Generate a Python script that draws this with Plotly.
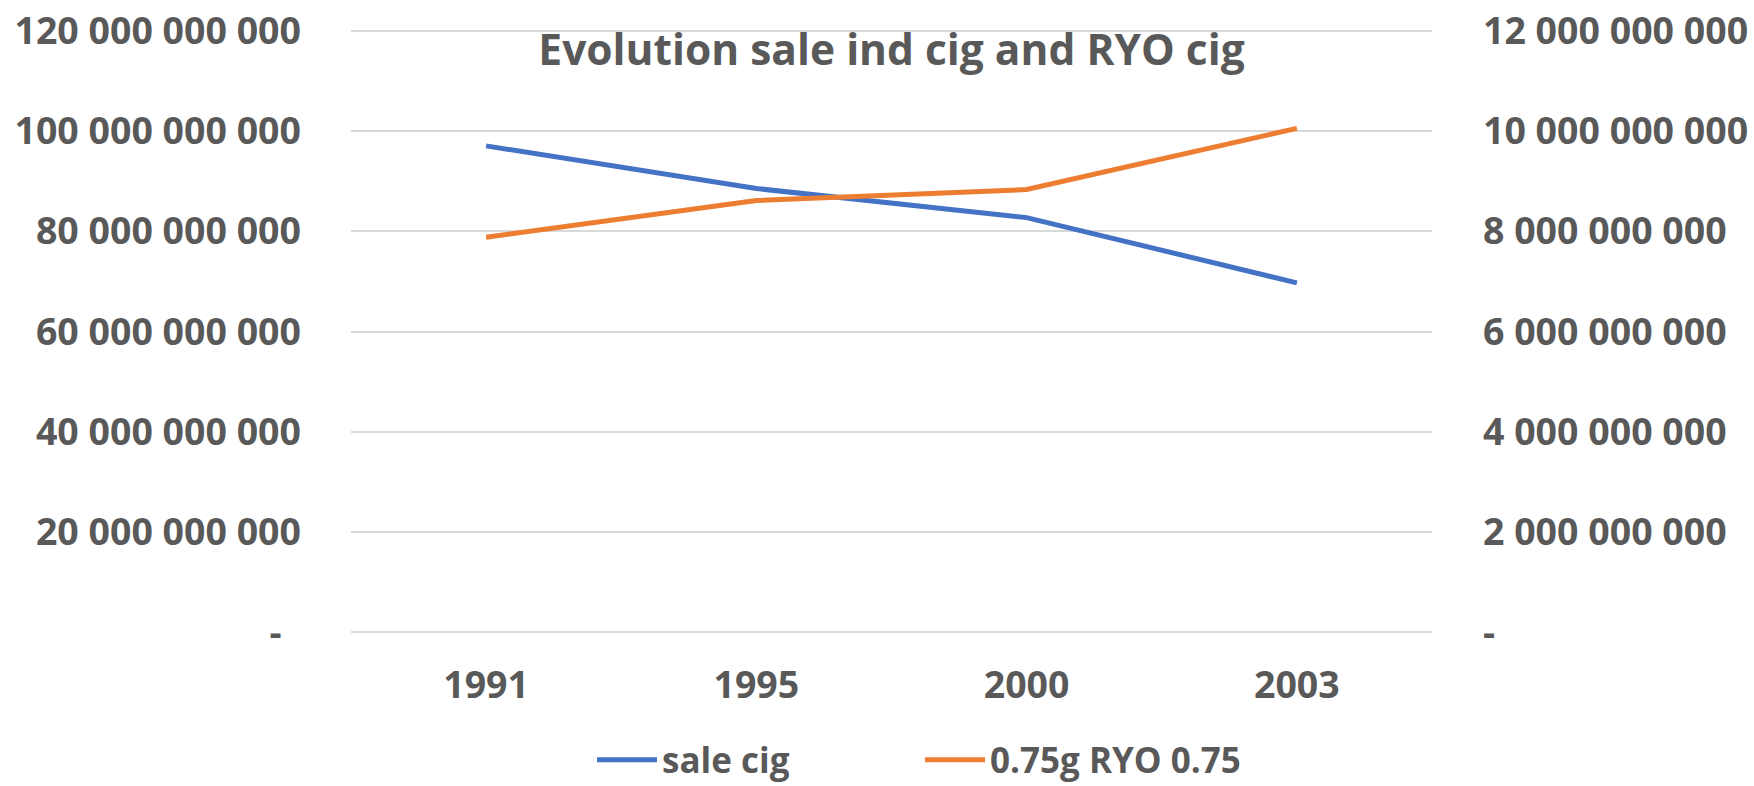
import plotly.graph_objects as go

years = ["1991", "1995", "2000", "2003"]
sale_cig = [97.0e9, 88.5e9, 82.7e9, 69.7e9]
ryo_cig = [7.88e9, 8.61e9, 8.83e9, 10.05e9]

left_tick_vals = [0, 20e9, 40e9, 60e9, 80e9, 100e9, 120e9]
left_tick_text = ["-\u00a0\u00a0", "20 000 000 000", "40 000 000 000", "60 000 000 000",
                  "80 000 000 000", "100 000 000 000", "120 000 000 000"]
right_tick_vals = [0, 2e9, 4e9, 6e9, 8e9, 10e9, 12e9]
right_tick_text = ["-", "2 000 000 000", "4 000 000 000", "6 000 000 000",
                   "8 000 000 000", "10 000 000 000", "12 000 000 000"]

TXT = "#595959"
GRID = "#D9D9D9"
FONT = "Open Sans"
TICKFONT = dict(family=FONT, size=37.5, color=TXT, weight="bold")
LEGFONT = dict(family=FONT, size=35, color=TXT, weight="bold")

fig = go.Figure()
fig.add_trace(go.Scatter(x=years, y=sale_cig, name="sale cig", mode="lines",
                         line=dict(color="#4472C4", width=5), legend="legend"))
fig.add_trace(go.Scatter(x=years, y=ryo_cig, name="0.75g RYO 0.75", mode="lines",
                         line=dict(color="#ED7D31", width=5), yaxis="y2", legend="legend2"))

fig.update_layout(
    width=1754, height=786,
    margin=dict(l=351, r=322, t=27.5, b=150.5, autoexpand=False),
    paper_bgcolor="white", plot_bgcolor="white",
    font=dict(family=FONT, color=TXT, size=37),
    title=dict(text="<b>Evolution sale ind cig and RYO cig</b>",
               x=0.5, xref="paper", xanchor="center",
               y=1 - 50 / 786, yref="container", yanchor="middle",
               font=dict(family=FONT, size=42.5, color=TXT)),
    xaxis=dict(type="category", range=[-0.5, 3.5], showgrid=False, showline=False,
               zeroline=False, ticks="", tickfont=TICKFONT,
               ticklabelstandoff=24, automargin=False),
    yaxis=dict(range=[-0.5e9, 120.5e9], tickvals=left_tick_vals, ticktext=left_tick_text,
               showgrid=True, gridcolor=GRID, gridwidth=2,
               zeroline=True, zerolinecolor=GRID, zerolinewidth=2,
               showline=False, ticks="", tickfont=TICKFONT,
               ticklabelstandoff=49, automargin=False),
    yaxis2=dict(range=[-0.05e9, 12.05e9], tickvals=right_tick_vals, ticktext=right_tick_text,
                overlaying="y", side="right", showgrid=False, zeroline=False,
                showline=False, ticks="", tickfont=TICKFONT,
                ticklabelstandoff=50, automargin=False),
    legend=dict(orientation="h", x=(592 - 351) / 1081, xanchor="left", xref="paper",
                y=26 / 786, yref="container", yanchor="middle",
                font=LEGFONT, itemwidth=60, bgcolor="rgba(0,0,0,0)"),
    legend2=dict(orientation="h", x=(920 - 351) / 1081, xanchor="left", xref="paper",
                 y=26 / 786, yref="container", yanchor="middle",
                 font=LEGFONT, itemwidth=60, bgcolor="rgba(0,0,0,0)"),
    showlegend=True,
)

fig.write_html("out.html", config={"displayModeBar": False},
               post_script="document.body.style.margin='0';document.body.style.overflow='hidden';")
